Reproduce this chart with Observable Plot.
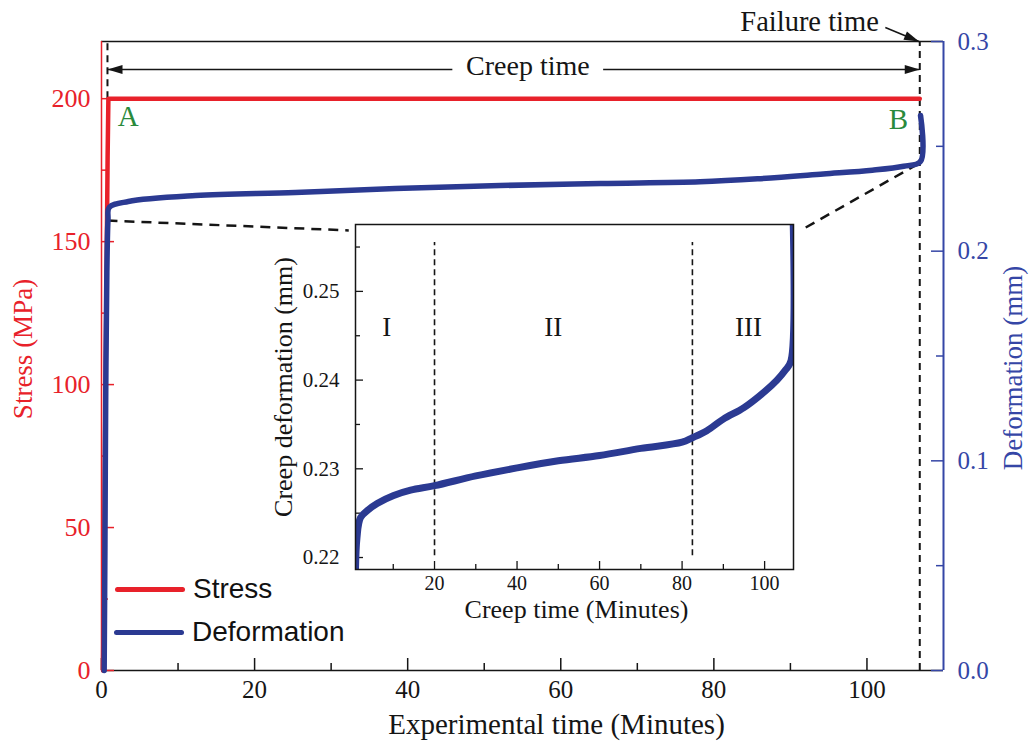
<!DOCTYPE html>
<html>
<head>
<meta charset="utf-8">
<script src="https://cdn.jsdelivr.net/npm/d3@7"></script>
<script src="https://cdn.jsdelivr.net/npm/@observablehq/plot@0.6"></script>
<style>
  html, body { margin: 0; padding: 0; background: #fff; }
  #chart { position: relative; width: 1031px; height: 741px; overflow: hidden; }
  #chart svg { position: absolute; }
  .legend-row { position: absolute; display: flex; align-items: center;
    font-family: "Liberation Sans", Arial, sans-serif; font-size: 28px; color: #111; height: 40px; }
  .legend-row .swatch { display: inline-block; width: 70px; height: 5px; border-radius: 3px; margin-right: 8px; }
</style>
</head>
<body>
<div id="chart"></div>
<script>
// ---- Main test record: stress and deformation against experimental time (minutes)
const stressTime  = [0.2, 0.5, 0.8, 0.9, 106.9];
const stressValue = [0, 90, 180, 200, 200];

const deformTime  = [0.35, 0.45, 0.55, 0.7, 0.85, 1.0, 3.5, 12.3, 25.3, 38.4, 52.1, 65.2, 78.2, 85.7, 94.3, 100.7, 104.8, 107.0, 107.0];
const deformValue = [0, 0.06, 0.13, 0.19, 0.215, 0.2208, 0.2237, 0.2265, 0.2280, 0.2299, 0.2313, 0.2323, 0.2331, 0.2345, 0.2368, 0.2386, 0.2405, 0.2428, 0.2647];

// ---- Creep stage detail (inset): creep deformation against creep time
const creepTime   = [0.85, 1.2, 2.06, 4, 6.1, 10.1, 14.2, 20, 30, 40, 50, 60, 70, 80, 82.5, 86, 90, 95, 100, 103, 105, 106.4, 106.5];
const creepDeform = [0.2186, 0.2222, 0.2245, 0.2254, 0.2261, 0.2270, 0.2276, 0.2281, 0.2292, 0.2301, 0.2309, 0.2315, 0.2323, 0.2330, 0.2335, 0.2343, 0.2356, 0.2369, 0.2387, 0.2400, 0.2411, 0.2422, 0.2650];
const stageBounds = [20, 82.5];
const stageNames  = ["I", "II", "III"];
const stageX      = [8.4, 48.8, 96.1];
const stageY      = [0.2459, 0.2459, 0.2459];

// ---- Tick values
const timeMajor   = [0, 20, 40, 60, 80, 100];
const timeMinor   = [10, 30, 50, 70, 90];
const stressMajor = [0, 50, 100, 150, 200];
const stressMinor = [25, 75, 125, 175];
const deformMajor = [0, 0.1, 0.2, 0.3];
const deformMinor = [0.05, 0.15, 0.25];
const insetTimeMajor   = [20, 40, 60, 80, 100];
const insetTimeMinor   = [10, 30, 50, 70, 90];
const insetDeformMajor = [0.22, 0.23, 0.24, 0.25];
const insetDeformMinor = [0.225, 0.235, 0.245, 0.255];

// ---- Annotations (data units)
const creepStart   = 0.78;    // load reaches 200 MPa (point A)
const failureTime  = 106.9;   // point B
const creepArrowY  = 210.2;   // stress units
const creepGap     = [45.9, 65.6];
const creepLabelAt = [55.7, 211.4];
const failureLabelAt = [92.5, 227.0];
const failureArrow = [[102.4, 224.9], [106.8, 220]];
const pointLabels  = ["A", "B"];
const pointLabelX  = [3.5, 104.1];
const pointLabelY  = [193.8, 192.7];
const zoomLinks = [
  {x1: 0.78, y1: 0.2146, x2: 32.3, y2: 0.2099},
  {x1: 92.0, y1: 0.2113, x2: 107.0, y2: 0.2423}
];
const legendItems = ["Stress", "Deformation"];

// ---- Styling
const W = 1031, H = 741;
const mL = 101, mR = 88, mT = 41, mB = 71;
const fw = W - mL - mR, fh = H - mT - mB;
const serif = "'Liberation Serif', 'Times New Roman', serif";
const red = "#e8212a", blue = "#2b3a92", axisBlue = "#3546a6", green = "#2a8a3c", ink = "#151515";

const arrowHead = {
  draw(context) {
    context.moveTo(0, 0);
    context.lineTo(-15, -4.5);
    context.lineTo(-15, 4.5);
    context.closePath();
  }
};

const stressData = stressTime.map((t, i) => ({t, s: stressValue[i]}));
const deformData = deformTime.map((t, i) => ({t, d: deformValue[i]}));
const creepData  = creepTime.map((t, i) => ({t, d: creepDeform[i]}));

// Stress layer: time axis, stress axis, frame and annotations
const stressPlot = Plot.plot({
  width: W, height: H, marginLeft: mL, marginRight: mR, marginTop: mT, marginBottom: mB,
  x: {domain: [0, 110], axis: null},
  y: {domain: [0, 220], axis: null},
  style: {background: "transparent", fontFamily: serif, overflow: "visible", left: "0px", top: "0px"},
  marks: [
    Plot.ruleY([0, 220], {stroke: ink, strokeWidth: 1.5}),
    Plot.ruleX([0], {stroke: red, strokeWidth: 1.5}),
    Plot.ruleX(timeMajor, {x: d => d, insetTop: fh - 12, stroke: ink, strokeWidth: 1.5}),
    Plot.ruleX(timeMinor, {x: d => d, insetTop: fh - 7, stroke: ink, strokeWidth: 1.5}),
    Plot.axisX({ticks: timeMajor, tickSize: 0, tickPadding: 10, fontSize: 25, color: ink, label: null}),
    Plot.ruleY(stressMajor, {y: d => d, insetRight: fw - 13, stroke: red, strokeWidth: 1.5}),
    Plot.ruleY(stressMinor, {y: d => d, insetRight: fw - 7, stroke: red, strokeWidth: 1.5}),
    Plot.axisY({ticks: stressMajor, tickSize: 0, tickPadding: 11, fontSize: 26, color: red, label: null}),
    Plot.text(["Experimental time (Minutes)"], {frameAnchor: "bottom", dx: 34, dy: 54, fontSize: 29, fill: ink, textAnchor: "middle", lineAnchor: "middle"}),
    Plot.text(["Stress (MPa)"], {frameAnchor: "left", dx: -78, dy: -7, rotate: -90, fontSize: 27, fill: red, textAnchor: "middle", lineAnchor: "middle"}),
    // stage boundaries of the creep test
    Plot.ruleX([creepStart], {y1: 200, y2: 220, stroke: ink, strokeWidth: 2, strokeDasharray: "7,5"}),
    Plot.ruleX([failureTime], {y1: 0, y2: 220, stroke: ink, strokeWidth: 2, strokeDasharray: "7,5"}),
    // creep-time span arrow
    Plot.ruleY([creepArrowY], {x1: creepStart, x2: creepGap[0], stroke: ink, strokeWidth: 1.5}),
    Plot.ruleY([creepArrowY], {x1: creepGap[1], x2: failureTime, stroke: ink, strokeWidth: 1.5}),
    Plot.dot([[creepStart, creepArrowY, 180], [failureTime, creepArrowY, 0]],
      {x: d => d[0], y: d => d[1], rotate: d => d[2], symbol: arrowHead, fill: ink, stroke: "none"}),
    Plot.text(["Creep time"], {x: creepLabelAt[0], y: creepLabelAt[1], fontSize: 28, fill: ink, lineAnchor: "middle"}),
    // failure-time pointer
    Plot.link([failureArrow], {x1: d => d[0][0], y1: d => d[0][1], x2: d => d[1][0], y2: d => d[1][1], stroke: ink, strokeWidth: 1.5}),
    Plot.dot([failureArrow[1]], {x: d => d[0], y: d => d[1], rotate: 23, symbol: arrowHead, fill: ink, stroke: "none"}),
    Plot.text(["Failure time"], {x: failureLabelAt[0], y: failureLabelAt[1], fontSize: 28.5, fill: ink, lineAnchor: "middle"}),
    // stress record
    Plot.line(stressData, {x: "t", y: "s", stroke: red, strokeWidth: 4.5}),
    Plot.text(pointLabels, {x: (d, i) => pointLabelX[i], y: (d, i) => pointLabelY[i], text: d => d, fontSize: 29, fill: green, lineAnchor: "middle"})
  ]
});

// Deformation layer: right-hand axis and deformation record
const deformPlot = Plot.plot({
  width: W, height: H, marginLeft: mL, marginRight: mR, marginTop: mT, marginBottom: mB,
  x: {domain: [0, 110], axis: null},
  y: {domain: [0, 0.3], axis: null},
  style: {background: "transparent", fontFamily: serif, overflow: "visible", left: "0px", top: "0px"},
  marks: [
    Plot.ruleX([110], {stroke: axisBlue, strokeWidth: 2}),
    Plot.ruleY(deformMajor, {y: d => d, insetLeft: fw - 12, stroke: axisBlue, strokeWidth: 1.5}),
    Plot.ruleY(deformMinor, {y: d => d, insetLeft: fw - 7, stroke: axisBlue, strokeWidth: 1.5}),
    Plot.axisY({anchor: "right", ticks: deformMajor, tickFormat: d3.format(".1f"), tickSize: 0, tickPadding: 14, fontSize: 25, color: axisBlue, label: null}),
    Plot.text(["Deformation (mm)"], {frameAnchor: "right", dx: 70, dy: 12, rotate: -90, fontSize: 27, fill: axisBlue, textAnchor: "middle", lineAnchor: "middle"}),
    Plot.link(zoomLinks, {x1: "x1", y1: "y1", x2: "x2", y2: "y2", stroke: ink, strokeWidth: 2.5, strokeDasharray: "10,7"}),
    Plot.line(deformData, {x: "t", y: "d", stroke: blue, strokeWidth: 5.5, strokeLinejoin: "round", curve: "catmull-rom"})
  ]
});

// Inset: creep deformation during the creep stage
const insetW = 533, insetH = 410;
const iL = 90, iR = 5, iT = 5, iB = 60;
const ifw = insetW - iL - iR, ifh = insetH - iT - iB;
const insetPlot = Plot.plot({
  width: insetW, height: insetH, marginLeft: iL, marginRight: iR, marginTop: iT, marginBottom: iB,
  x: {domain: [0.85, 107], axis: null},
  y: {domain: [0.21865, 0.25754], axis: null},
  style: {background: "transparent", fontFamily: serif, overflow: "visible", left: "265px", top: "219px"},
  marks: [
    Plot.ruleX(insetTimeMajor, {x: d => d, insetTop: ifh - 8, stroke: ink, strokeWidth: 1.3}),
    Plot.ruleX(insetTimeMinor, {x: d => d, insetTop: ifh - 5, stroke: ink, strokeWidth: 1.3}),
    Plot.ruleY(insetDeformMajor, {y: d => d, insetRight: ifw - 8, stroke: ink, strokeWidth: 1.3}),
    Plot.ruleY(insetDeformMinor, {y: d => d, insetRight: ifw - 5, stroke: ink, strokeWidth: 1.3}),
    Plot.axisX({ticks: insetTimeMajor, tickSize: 0, tickPadding: 6, fontSize: 20, color: ink, label: null}),
    Plot.axisY({ticks: insetDeformMajor, tickFormat: d3.format(".2f"), tickSize: 0, tickPadding: 16, fontSize: 21, color: ink, label: null}),
    Plot.text(["Creep time (Minutes)"], {frameAnchor: "bottom", dx: 2, dy: 40, fontSize: 26, fill: ink, textAnchor: "middle", lineAnchor: "middle"}),
    Plot.text(["Creep deformation (mm)"], {frameAnchor: "left", dx: -72, dy: -10, rotate: -90, fontSize: 26, fill: ink, textAnchor: "middle", lineAnchor: "middle"}),
    Plot.ruleX(stageBounds, {x: d => d, y1: 0.2202, y2: 0.2555, stroke: ink, strokeWidth: 1.6, strokeDasharray: "6,4"}),
    Plot.text(stageNames, {x: (d, i) => stageX[i], y: (d, i) => stageY[i], text: d => d, fontSize: 27, fill: ink, lineAnchor: "middle"}),
    Plot.line(creepData, {x: "t", y: "d", stroke: blue, strokeWidth: 7, clip: true, curve: "catmull-rom"}),
    Plot.frame({stroke: ink, strokeWidth: 1.5})
  ]
});

const chart = document.getElementById("chart");
chart.append(stressPlot, deformPlot, insetPlot);

// Legend
const legendColors = [red, blue];
const legendLeft = [115, 114];
const legendTop = [569, 612];
legendItems.forEach((name, i) => {
  const row = document.createElement("div");
  row.className = "legend-row";
  row.style.left = legendLeft[i] + "px";
  row.style.top = legendTop[i] + "px";
  const sw = document.createElement("span");
  sw.className = "swatch";
  sw.style.background = legendColors[i];
  row.append(sw, document.createTextNode(name));
  chart.append(row);
});
</script>
</body>
</html>
